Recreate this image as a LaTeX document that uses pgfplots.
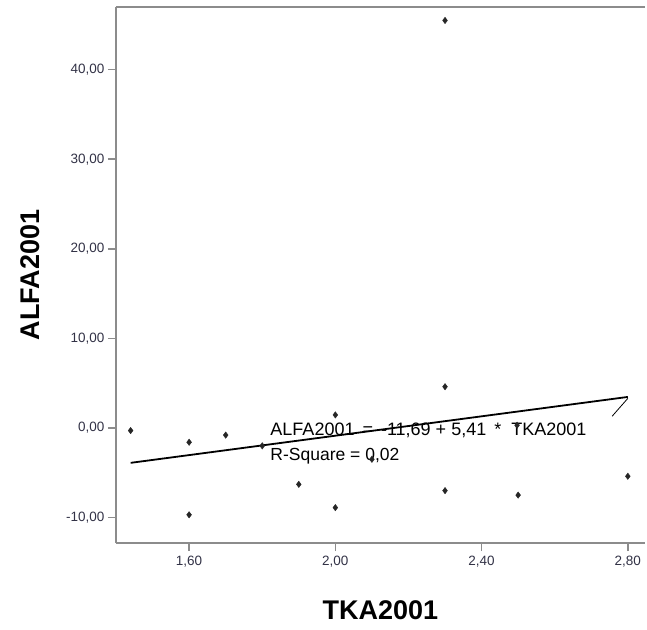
\documentclass[border=0pt]{standalone}
\usepackage{pgfplots}
\pgfplotsset{compat=1.18}
\usepackage{fontspec}
\setmainfont{Liberation Sans}
\definecolor{axgray}{RGB}{140,140,140}
\definecolor{ticktxt}{RGB}{50,50,70}
\begin{document}
\begin{tikzpicture}[x=1pt,y=1pt]
\path[use as bounding box] (-116,-86) rectangle (531,543);
\begin{axis}[
  at={(0,0)}, anchor=south west,
  scale only axis, width=529pt, height=536pt,
  xmin=1.40, xmax=2.847, ymin=-12.85, ymax=47.0,
  axis lines=left, axis line style={-, axgray, line width=1.3pt},
  xtick={1.6,2.0,2.4,2.8}, ytick={-10,0,10,20,30,40},
  tick align=outside, major tick length=8pt,
  tick style={axgray, line width=1.5pt},
  /pgf/number format/.cd, fixed, fixed zerofill, precision=2, use comma, assume math mode=true,
  /pgfplots/.cd,
  ticklabel style={font=\fontsize{13.5}{15}\selectfont, text=ticktxt},
  yticklabel style={xshift=0pt},
  xticklabel style={yshift=-2pt},
  xlabel={\textbf{TKA2001}}, ylabel={\textbf{ALFA2001}},
  label style={font=\fontsize{27}{30}\selectfont},
  xlabel style={at={(axis description cs:0.5,0)}, anchor=center, yshift=-67pt},
  ylabel style={at={(axis description cs:0,0.5)}, anchor=center, yshift=86pt},
  clip=false,
]
\addplot[only marks, mark=diamond*, mark size=3.2pt, mark options={fill=black!85, draw=black!85}] coordinates {
(1.44,-0.3) (1.60,-1.6) (1.60,-9.7) (1.70,-0.8) (1.80,-2.0) (1.90,-6.3)
(2.00,1.45) (2.00,-8.9) (2.10,-3.5) (2.30,45.5) (2.30,4.6) (2.30,-7.0)
(2.497,0.3) (2.50,-7.5) (2.80,-5.4)
};
\addplot[black, line width=1.8pt] coordinates {(1.44,-3.90) (2.80,3.46)};
\addplot[black, line width=0.8pt] coordinates {(2.80,3.30) (2.757,1.30)};
\node[anchor=west, font=\fontsize{18}{20}\selectfont, inner sep=0pt] at (axis cs:1.822,-0.25) {ALFA2001 \,=\, -11,69 + 5,41 \,*\hspace{10pt}TKA2001};
\node[anchor=west, font=\fontsize{17.5}{20}\selectfont, inner sep=0pt] at (axis cs:1.822,-3.2) {R-Square = 0,02};
\draw[axgray, line width=1.3pt] (axis description cs:0,1) -- (axis description cs:1,1);
\end{axis}
\end{tikzpicture}
\end{document}
